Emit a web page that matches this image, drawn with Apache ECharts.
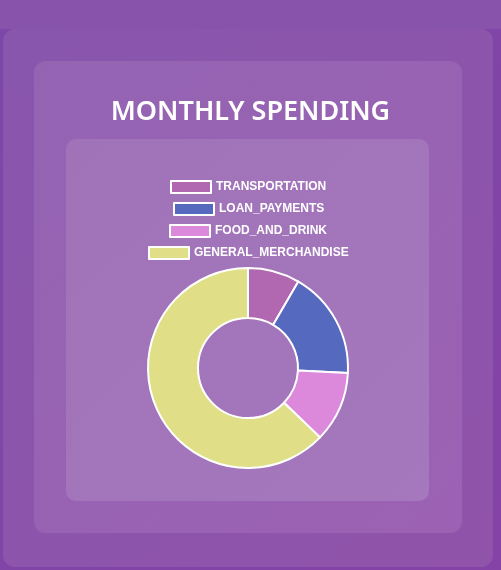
<!DOCTYPE html>
<html>
<head>
<meta charset="utf-8">
<script src="https://cdn.jsdelivr.net/npm/echarts@6/dist/echarts.min.js"></script>
<style>
  html, body { margin: 0; padding: 0; }
  body {
    width: 501px; height: 570px; overflow: hidden; position: relative;
    background: linear-gradient(135deg, #7c47a8, #8543a7);
  }
  .bar { position: absolute; left: 0; top: 0; width: 501px; height: 29px; background: #8854ab; }
  .box { position: absolute; }
  #box1 { left: 3px; top: 29px; width: 490px; height: 538px; border-radius: 12px;
          background: linear-gradient(135deg, #8956ad, #9053aa); }
  #box2 { left: 34px; top: 61px; width: 428px; height: 472px; border-radius: 12px;
          background: linear-gradient(135deg, #9464b3, #9c61b2); }
  #box3 { left: 66px; top: 139px; width: 363px; height: 362px; border-radius: 10px;
          background: linear-gradient(135deg, #a073b9, #a578bd); }
  #chart { position: absolute; left: 0; top: 0; width: 501px; height: 570px; }
</style>
</head>
<body>
<div class="bar"></div>
<div class="box" id="box1"></div>
<div class="box" id="box2"></div>
<div class="box" id="box3"></div>
<div id="chart"></div>
<script>
var categories = ['TRANSPORTATION', 'LOAN_PAYMENTS', 'FOOD_AND_DRINK', 'GENERAL_MERCHANDISE'];
var values = [8.4, 17.4, 11.4, 62.8];
var colors = ['#b267b1', '#5569be', '#dc89dc', '#e0df88'];
var legendTops = [175, 197, 219, 241];

var legendFont = 'bold 12px "Liberation Sans"';
var legendCenter = 248;

var myChart = echarts.init(document.getElementById('chart'), null, { renderer: 'canvas' });

// measure the label so each legend line can be centered on its own
var ctx = document.createElement('canvas').getContext('2d');
ctx.font = legendFont;

var legends = categories.map((name, i) => {
    let w = 40 + 5 + ctx.measureText(name).width;
    return {
        data: [name],
        left: Math.round(legendCenter - w / 2 - 5),
        top: legendTops[i],
        icon: 'rect',
        itemWidth: 40,
        itemHeight: 12,
        selectedMode: false,
        itemStyle: { borderColor: '#fff', borderWidth: 2 },
        textStyle: {
            color: '#fff',
            fontSize: 12,
            fontWeight: 'bold',
            fontFamily: 'Liberation Sans'
        }
    };
});

var option = {
    backgroundColor: 'transparent',
    title: {
        text: 'MONTHLY SPENDING',
        left: 'center',
        top: 94,
        textStyle: {
            color: '#fff',
            fontSize: 27,
            fontWeight: 600,
            fontFamily: 'Noto Sans'
        }
    },
    legend: legends,
    series: [
        {
            type: 'pie',
            center: [248, 368],
            radius: [50, 100],
            startAngle: 90,
            clockwise: true,
            label: { show: false },
            labelLine: { show: false },
            emphasis: { disabled: true },
            itemStyle: { borderColor: '#fff', borderWidth: 2 },
            data: categories.map((name, i) => ({
                name: name,
                value: values[i],
                itemStyle: { color: colors[i] }
            }))
        }
    ]
};

myChart.setOption(option);
</script>
</body>
</html>
